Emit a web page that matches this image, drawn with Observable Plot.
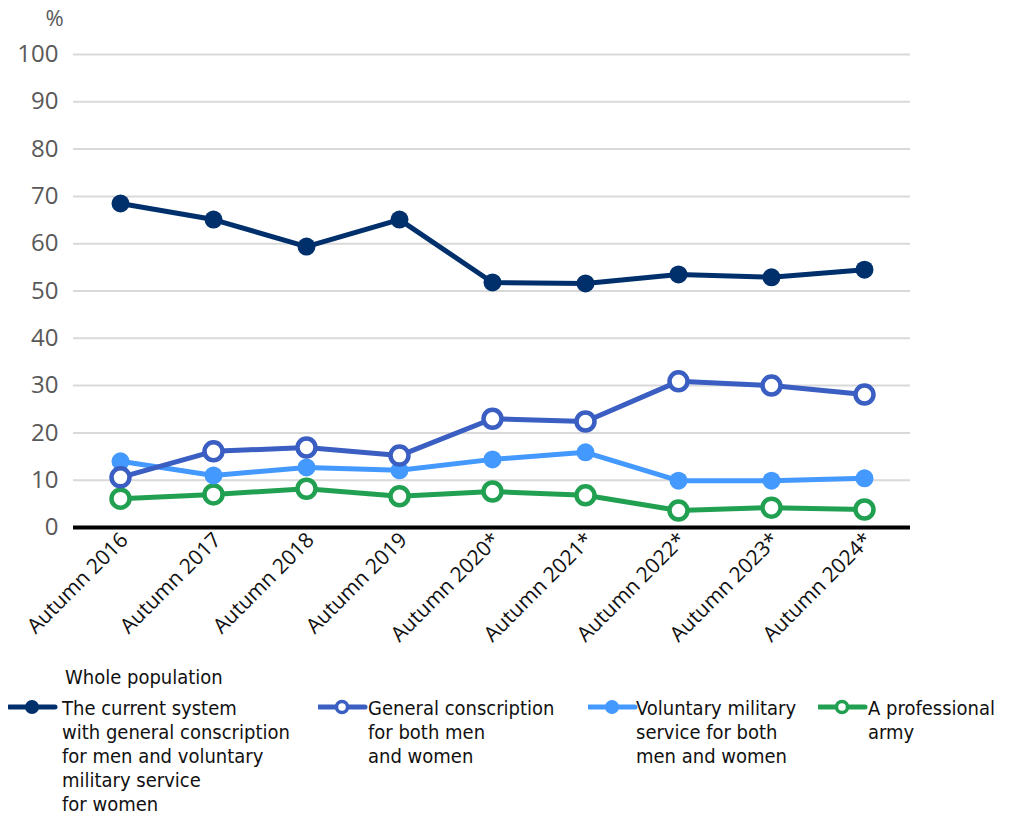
<!DOCTYPE html>
<html>
<head>
<meta charset="utf-8">
<script src="https://cdn.jsdelivr.net/npm/d3@7"></script>
<script src="https://cdn.jsdelivr.net/npm/@observablehq/plot@0.6"></script>
<style>
  body { margin: 0; background: #fff; font-family: "Open Sans", sans-serif; }
  #wrap { position: relative; width: 1010px; height: 815px; }
  #legend { position: absolute; left: 0; top: 660px; width: 1010px; height: 155px; }
  .lt { position: absolute; font-family: "DejaVu Sans Condensed", "DejaVu Sans", sans-serif; font-stretch: condensed; font-size: 20px; line-height: 24px; color: #111; white-space: nowrap; }
  .sw { position: absolute; }
</style>
</head>
<body>
<div id="wrap">
  <div id="chart"></div>
  <div id="legend"></div>
</div>
<script>
const categories = ["Autumn 2016","Autumn 2017","Autumn 2018","Autumn 2019","Autumn 2020*","Autumn 2021*","Autumn 2022*","Autumn 2023*","Autumn 2024*"];
const seriesNames = [
  "The current system with general conscription for men and voluntary military service for women",
  "General conscription for both men and women",
  "Voluntary military service for both men and women",
  "A professional army"
];
const currentSystem = [68.5, 65.1, 59.4, 65.1, 51.8, 51.6, 53.5, 52.9, 54.5];
const generalConscription = [10.6, 16.1, 16.9, 15.2, 23.0, 22.4, 30.9, 30.0, 28.1];
const voluntaryService = [14.0, 11.0, 12.7, 12.1, 14.4, 15.9, 9.9, 9.9, 10.4];
const professionalArmy = [6.1, 7.0, 8.2, 6.6, 7.6, 6.8, 3.6, 4.2, 3.8];
const yTicks = [0,10,20,30,40,50,60,70,80,90,100];

const colors = ["#00306c", "#3a5ec2", "#4499ff", "#22a052"];
const hollow = [false, true, false, true];
const allValues = [currentSystem, generalConscription, voluntaryService, professionalArmy];

const data = [];
allValues.forEach((vals, s) => vals.forEach((v, i) => data.push({cat: categories[i], value: v, s})));

const marks = [
  Plot.gridY(yTicks, {stroke: "#d9d9d9", strokeOpacity: 1, strokeWidth: 2}),
  Plot.axisY(yTicks, {tickSize: 0, tickPadding: 15, fontSize: 24, fill: "#595959", label: null}),
  Plot.axisX({tickSize: 0, tickRotate: -45, tickPadding: 9, dx: 4, fontSize: 21, fill: "#111", label: null}),
  Plot.ruleY([0], {stroke: "#000", strokeWidth: 4}),
  Plot.text(["%"], {frameAnchor: "top-left", lineAnchor: "middle", dx: -28, dy: -36, fontSize: 22, fill: "#595959"})
];
[3,2,1,0].forEach(s => {
  const d = data.filter(r => r.s === s);
  marks.push(Plot.line(d, {x: "cat", y: "value", stroke: colors[s], strokeWidth: 5}));
  if (hollow[s]) {
    marks.push(Plot.dot(d, {x: "cat", y: "value", r: 9, fill: "#fff", stroke: colors[s], strokeWidth: 4.5}));
  } else {
    marks.push(Plot.dot(d, {x: "cat", y: "value", r: 9, fill: colors[s], stroke: "none"}));
  }
});

const chart = Plot.plot({
  width: 1010,
  height: 660,
  marginLeft: 73,
  marginRight: 100,
  marginTop: 54,
  marginBottom: 133,
  style: {fontFamily: "'Open Sans', sans-serif", background: "#fff"},
  x: {type: "point", domain: categories, padding: 0.5},
  y: {domain: [0, 100]},
  marks
});
document.getElementById("chart").appendChild(chart);

// Legend
const legend = document.getElementById("legend");
const title = document.createElement("div");
title.className = "lt";
title.style.left = "65px";
title.style.top = "5px";
title.textContent = "Whole population";
legend.appendChild(title);

const items = [
  {x: 8, tx: 62, lines: ["The current system", "with general conscription", "for men and voluntary", "military service", "for women"]},
  {x: 318, tx: 368, lines: ["General conscription", "for both men", "and women"]},
  {x: 588, tx: 636, lines: ["Voluntary military", "service for both", "men and women"]},
  {x: 818, tx: 868, lines: ["A professional", "army"]}
];
items.forEach((it, s) => {
  const ns = "http://www.w3.org/2000/svg";
  const svg = document.createElementNS(ns, "svg");
  svg.setAttribute("width", 50); svg.setAttribute("height", 20);
  svg.setAttribute("class", "sw");
  svg.style.left = it.x + "px"; svg.style.top = "37px";
  const ln = document.createElementNS(ns, "line");
  ln.setAttribute("x1", 1); ln.setAttribute("x2", 47); ln.setAttribute("y1", 10); ln.setAttribute("y2", 10);
  ln.setAttribute("stroke", colors[s]); ln.setAttribute("stroke-width", 5); ln.setAttribute("stroke-linecap", "round");
  svg.appendChild(ln);
  const c = document.createElementNS(ns, "circle");
  c.setAttribute("cx", 24); c.setAttribute("cy", 10); c.setAttribute("r", hollow[s] ? 5.5 : 7);
  c.setAttribute("fill", hollow[s] ? "#fff" : colors[s]);
  if (hollow[s]) { c.setAttribute("stroke", colors[s]); c.setAttribute("stroke-width", 3.5); }
  svg.appendChild(c);
  legend.appendChild(svg);
  const t = document.createElement("div");
  t.className = "lt";
  t.style.left = it.tx + "px";
  t.style.top = "36px";
  t.innerHTML = it.lines.join("<br>");
  legend.appendChild(t);
});
</script>
</body>
</html>
